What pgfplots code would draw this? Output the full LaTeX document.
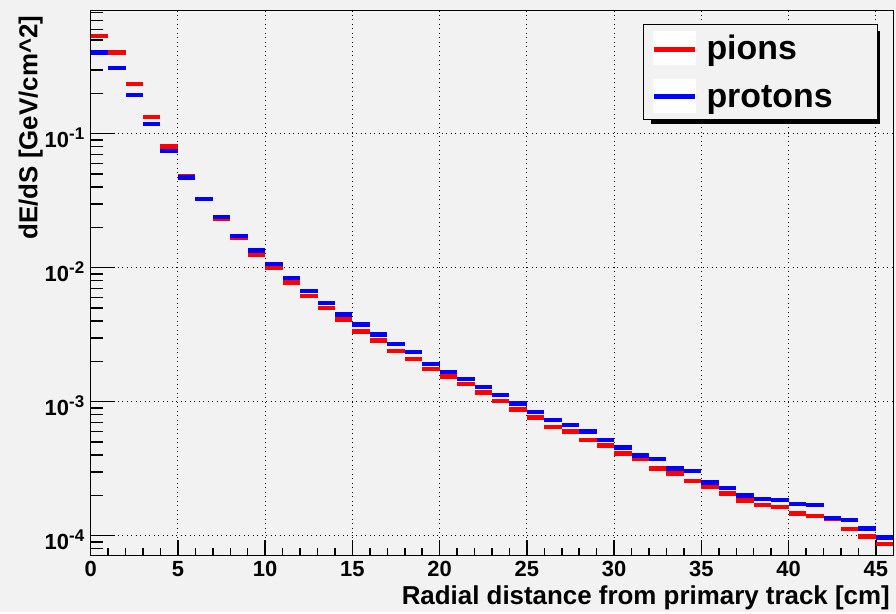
\documentclass[border=0pt]{standalone}
\usepackage{pgfplots}
\pgfplotsset{compat=1.18}
\usepackage{pgfplotstable}
\usepackage{fontspec}
\setmainfont{Liberation Sans}
\definecolor{bggray}{RGB}{242,242,242}

\pgfplotstableread{
x pions protons
0.5 0.536 0.402
1.5 0.402 0.308
2.5 0.235 0.194
3.5 0.133 0.118
4.5 0.080 0.074
5.5 0.048 0.0470
6.5 0.0325 0.0327
7.5 0.0232 0.0238
8.5 0.0168 0.0173
9.5 0.01245 0.0134
10.5 0.00995 0.01066
11.5 0.00778 0.00841
12.5 0.00615 0.00670
13.5 0.00500 0.00546
14.5 0.00412 0.00446
15.5 0.00335 0.00376
16.5 0.00287 0.00318
17.5 0.00239 0.00270
18.5 0.00208 0.00235
19.5 0.00176 0.00191
20.5 0.00154 0.00167
21.5 0.00135 0.00148
22.5 0.00117 0.00129
23.5 0.00101 0.00112
24.5 0.000878 0.000973
25.5 0.000765 0.000841
26.5 0.000650 0.000729
27.5 0.000601 0.000670
28.5 0.000518 0.000601
29.5 0.000473 0.000518
30.5 0.000412 0.000457
31.5 0.000376 0.000398
32.5 0.000318 0.000373
33.5 0.000292 0.000316
34.5 0.000256 0.000305
35.5 0.000230 0.000249
36.5 0.000207 0.000226
37.5 0.000183 0.000199
38.5 0.000170 0.000188
39.5 0.000164 0.000184
40.5 0.000146 0.000172
41.5 0.000140 0.000169
42.5 0.000133 0.000135
43.5 0.000112 0.000131
44.5 0.0000990 0.000113
45.5 0.0000867 0.0000967
}\datatable

\newcommand{\ylab}[1]{10\raisebox{8.8bp}{\fontsize{17}{17}\selectfont #1}}

\begin{document}
\begin{tikzpicture}
\fill[bggray] (0,0) rectangle (896bp,612bp);
\begin{axis}[
  at={(90.7bp,56.3bp)}, anchor=south west,
  scale only axis, width=802.6bp, height=545bp,
  ymode=log,
  xmin=0, xmax=46, ymin=7.09e-5, ymax=0.828,
  axis background/.style={fill=bggray},
  xtick={0,5,...,45}, minor x tick num=4,
  ytick={1e-4,1e-3,1e-2,1e-1},
  yticklabels={\ylab{-4},\ylab{-3},\ylab{-2},\ylab{-1}},
  minor ytick={7e-5,8e-5,9e-5,2e-4,3e-4,4e-4,5e-4,6e-4,7e-4,8e-4,9e-4,2e-3,3e-3,4e-3,5e-3,6e-3,7e-3,8e-3,9e-3,2e-2,3e-2,4e-2,5e-2,6e-2,7e-2,8e-2,9e-2,2e-1,3e-1,4e-1,5e-1,6e-1,7e-1,8e-1},
  tick align=inside, xtick pos=left, ytick pos=left,
  tick style={black, line width=1.5bp},
  xtick style={/pgfplots/major tick length=16bp,/pgfplots/minor tick length=8bp},
  ytick style={/pgfplots/major tick length=24bp,/pgfplots/minor tick length=12bp},
  grid=major,
  major grid style={black, line width=0.9bp, dash pattern=on 1.2bp off 3.3bp},
  axis line style={black, line width=1.5bp},
  /pgf/number format/assume math mode=true,
  tick label style={font=\fontsize{22}{22}\selectfont\bfseries},
  xticklabel style={yshift=-2bp},
  yticklabel style={xshift=-3bp, yshift=-4bp},
  xlabel={Radial distance from primary track [cm]},
  xlabel style={at={(rel axis cs:1,-0.0892)}, anchor=base east, font=\fontsize{26}{26}\selectfont\bfseries},
  ylabel={dE/dS [GeV/cm\textasciicircum 2]},
  ylabel style={at={(rel axis cs:-0.0663,0.9976)}, rotate=0, anchor=base east, font=\fontsize{26}{26}\selectfont\bfseries},
  legend style={
    at={(rel axis cs:0.6878,0.9756)}, anchor=north west,
    draw=black, line width=1bp, fill=bggray,
    font=\fontsize{34}{34}\selectfont\bfseries,
    inner xsep=8bp, inner ysep=6.5bp,
    row sep=13bp,
    nodes={inner sep=0pt, text height=27bp, text depth=5.8bp, text width=163bp, align=left},
    cells={anchor=west},
    /tikz/every odd column/.append style={column sep=9bp},
  },
]
\addlegendimage{legend image code/.code={
  \fill[white] (0bp,-15.6bp) rectangle (41.3bp,17.7bp);
  \draw[red, line width=5bp] (0bp,0bp) -- (41.3bp,0bp);}}
\addlegendentry{pions}
\addlegendimage{legend image code/.code={
  \fill[white] (0bp,-15.6bp) rectangle (41.3bp,17.7bp);
  \draw[blue, line width=5bp] (0bp,0bp) -- (41.3bp,0bp);}}
\addlegendentry{protons}

\addplot[red, only marks, mark=-, mark size=8.72bp, mark options={solid, line width=4.5bp}, forget plot]
  table[x=x, y=pions]{\datatable};
\addplot[blue, only marks, mark=-, mark size=8.72bp, mark options={solid, line width=4.5bp}, forget plot]
  table[x=x, y=protons]{\datatable};
% legend drop shadow (decoration)
\fill[black] (rel axis cs:0.6977,0.9628) rectangle (rel axis cs:0.9831,0.7916);
\end{axis}
\end{tikzpicture}
\end{document}
